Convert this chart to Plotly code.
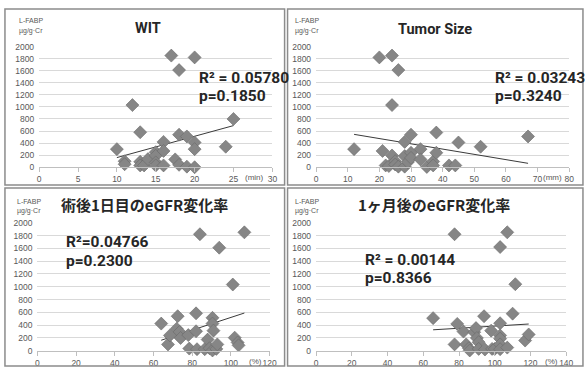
import plotly.graph_objects as go

W, H = 587, 374

# ---- data -------------------------------------------------------------
wit_x = [10, 11, 11, 12, 13, 13, 13, 13.5, 14, 15, 15, 15, 15, 16, 16, 16,
         17, 17.5, 18, 18, 18, 19, 19, 20, 20, 20, 20, 24, 25]
wit_y = [300, 100, 50, 1030, 580, 90, 30, 30, 135, 250, 190, 80, 30, 420, 270, 30,
         1850, 130, 1610, 540, 40, 510, 10, 1820, 410, 300, 0, 340, 800]
wit_trend_x = [10, 25]
wit_trend_y = [160, 690]

size_x = [12, 20, 21, 22, 23, 24, 24, 24, 25, 25, 26, 26, 28, 28, 28, 29, 30, 30, 30,
          33, 33, 35, 37, 37, 38, 38, 42, 44, 45, 52, 67]
size_y = [300, 1820, 270, 30, 20, 1850, 1030, 195, 100, 45, 1610, 10, 420, 185, 10, 85,
          540, 240, 155, 300, 130, 5, 95, 30, 575, 240, 30, 30, 410, 340, 510]
size_trend_x = [12, 67]
size_trend_y = [545, 65]

d1_x = [64, 67.5, 68.5, 72, 72.5, 73.5, 74, 78, 78.5, 82, 82, 82.5, 84, 86.5, 88, 89,
        90.5, 90.5, 91, 90.5, 92.5, 93, 94, 101, 102, 103.5, 104, 107]
d1_y = [425, 100, 240, 345, 540, 295, 200, 245, 35, 585, 305, 25, 1820, 25, 175, 40,
        515, 425, 315, 5, 30, 100, 1610, 1035, 205, 130, 85, 1850]
d1_trend_x = [64, 107]
d1_trend_y = [165, 590]

m1_x = [65.5, 77.5, 77.5, 79, 82.5, 84, 85.5, 86, 88.5, 89.5, 90, 91, 91, 94, 94.5,
        98, 98.5, 100, 103, 103, 103, 103, 103, 103, 107, 107, 110, 111.5, 117, 119]
m1_y = [510, 100, 1820, 420, 300, 100, 40, 5, 290, 355, 200, 135, 30, 540, 20,
        315, 30, 30, 1620, 430, 240, 190, 100, 25, 1850, 50, 580, 1040, 160, 255]
m1_trend_x = [65.5, 119]
m1_trend_y = [328, 418]

titles = ["WIT", "Tumor Size", "術後1日目のeGFR変化率", "1ヶ月後のeGFR変化率"]
stats_r2 = ["R² = 0.05780", "R² = 0.03243", "R²=0.04766", "R² = 0.00144"]
stats_p = ["p=0.1850", "p=0.3240", "p=0.2300", "p=0.8366"]
units = ["(min)", "(mm)", "(%)", "(%)"]
x_max = [30, 80, 120, 140]
x_step = [5, 10, 20, 20]
y_ticks = list(range(0, 2001, 200))

panels = [
    (wit_x, wit_y, wit_trend_x, wit_trend_y),
    (size_x, size_y, size_trend_x, size_trend_y),
    (d1_x, d1_y, d1_trend_x, d1_trend_y),
    (m1_x, m1_y, m1_trend_x, m1_trend_y),
]

# ---- layout geometry (pixels) ----------------------------------------
def px(x):
    return x / W

def py(y):
    return 1 - y / H

# plot area of each panel: left, right, top(2000), bottom(0)
areas = [
    (37.7, 274.6, 42.7, 166.7),
    (319.0, 576.0, 42.7, 166.7),
    (36.0, 271.7, 223.7, 355.3),
    (319.0, 573.0, 223.7, 355.3),
]
frames = [(3, 287, 4, 185), (290, 590, 4, 185), (3, 287, 188, 371), (290, 590, 188, 371)]
title_pos = [(148, 24), (440, 25), (145, 205), (439, 205)]
stat_pos = [(198, 75, 94), (499, 75, 94), (63, 244, 263), (367, 262, 281)]
label_pos = [(15, 16, 27), (296, 16, 27), (13, 202, 212), (296, 202, 212)]
unit_pos = [27.7, 74.6, 112.8, 131.6]

fig = go.Figure()
layout = dict(
    width=W, height=H, margin=dict(l=0, r=0, t=0, b=0),
    paper_bgcolor="white", plot_bgcolor="white", showlegend=False,
)
annotations, shapes = [], []
tick_font = dict(family="Liberation Sans, Arial, sans-serif", size=8.5, color="#595959")
unit_font = dict(family="Liberation Sans, Arial, sans-serif", size=8, color="#595959")

for i, ((xs, ys, tx, ty), (l, r, t, b)) in enumerate(zip(panels, areas)):
    n = "" if i == 0 else str(i + 1)
    xa, ya = "x" + n, "y" + n
    fig.add_trace(go.Scatter(
        x=tx, y=ty, xaxis=xa, yaxis=ya, mode="lines",
        line=dict(color="#3a3a3a", width=1), hoverinfo="skip"))
    fig.add_trace(go.Scatter(
        x=xs, y=ys, xaxis=xa, yaxis=ya, mode="markers", cliponaxis=False,
        marker=dict(symbol="diamond", size=10, color="#868686",
                    line=dict(color="#6a6a6a", width=0.6))))

    xt = list(range(0, x_max[i] + 1, x_step[i]))
    layout["xaxis" + n] = dict(
        domain=[px(l), px(r)], anchor=ya, range=[0, x_max[i]],
        tickvals=xt, ticktext=[str(v) for v in xt],
        showgrid=False, zeroline=False, showline=True, linecolor="#bfbfbf", linewidth=1,
        ticks="outside", ticklen=4, tickcolor="#bfbfbf", tickfont=tick_font,
        fixedrange=True)
    layout["yaxis" + n] = dict(
        domain=[py(b), py(t)], anchor=xa, range=[0, 2000],
        tickvals=y_ticks, ticktext=[str(v) for v in y_ticks],
        showgrid=True, gridcolor="#d9d9d9", gridwidth=1, zeroline=False,
        showline=False, ticks="", ticklabelstandoff=4, tickfont=tick_font,
        fixedrange=True)

    # panel frame
    x0, x1, y0, y1 = frames[i]
    shapes.append(dict(type="rect", xref="paper", yref="paper",
                       x0=px(x0), x1=px(x1), y0=py(y1), y1=py(y0),
                       line=dict(color="#8c8c8c", width=1.5)))

    # title
    tx_, ty_ = title_pos[i]
    cjk = i >= 2
    annotations.append(dict(
        x=px(tx_), y=py(ty_), xref="paper", yref="paper", showarrow=False,
        xanchor="center", yanchor="middle", text="<b>" + titles[i] + "</b>",
        font=dict(family="Noto Sans CJK JP" if cjk else "Roboto, sans-serif",
                  size=15 if cjk else 14.5, color="#262626")))

    # statistics
    sx, sy1, sy2 = stat_pos[i]
    for txt, yy in ((stats_r2[i], sy1), (stats_p[i], sy2)):
        annotations.append(dict(
            x=px(sx), y=py(yy), xref="paper", yref="paper", showarrow=False,
            xanchor="left", yanchor="middle", text="<b>" + txt + "</b>",
            font=dict(family="Roboto, sans-serif", size=15.5, color="#262626")))

    # y-axis caption
    lx, ly1, ly2 = label_pos[i]
    for txt, yy in (("L-FABP", ly1), ("µg/g·Cr", ly2)):
        annotations.append(dict(
            x=px(lx), y=py(yy), xref="paper", yref="paper", showarrow=False,
            xanchor="left", yanchor="middle", text=txt,
            font=dict(family="Liberation Sans, Arial, sans-serif", size=7, color="#595959")))

    # x-axis unit
    annotations.append(dict(
        x=unit_pos[i], y=0, xref=xa, yref=ya, showarrow=False,
        xanchor="center", yanchor="top", yshift=-4, text=units[i],
        font=unit_font))

layout["annotations"] = annotations
layout["shapes"] = shapes
fig.update_layout(**layout)
fig.write_html("out.html")
